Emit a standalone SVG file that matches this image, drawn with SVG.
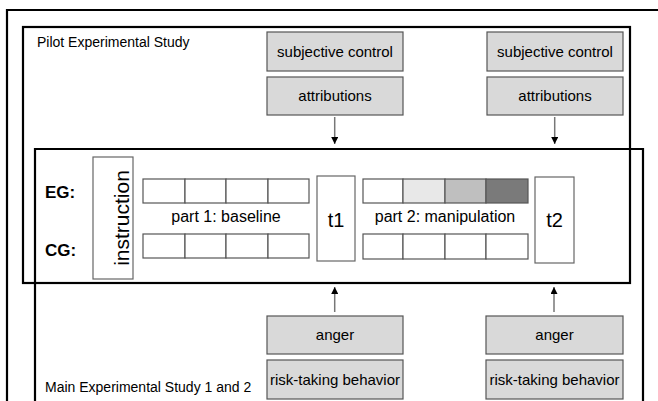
<svg xmlns="http://www.w3.org/2000/svg" width="658" height="401" viewBox="0 0 658 401">
<defs>
<style>
text{font-family:"Liberation Sans",Arial,sans-serif;fill:#000}
.frame{fill:none;stroke:#000;stroke-width:2.2}
.gbox{fill:#d9d9d9;stroke:#555;stroke-width:1.2}
.cell{fill:#fff;stroke:#555;stroke-width:1.2}
.wbox{fill:#fff;stroke:#666;stroke-width:1.2}
.lbl{font-size:15px;text-anchor:middle}
.big{font-size:16px;text-anchor:middle}
.grp{font-size:17px;font-weight:bold}
.tt{font-size:20px;text-anchor:middle}
.conn{stroke:#777;stroke-width:1.5;fill:none}
</style>
<marker id="ah" viewBox="0 0 10 10" refX="10" refY="5" markerWidth="7" markerHeight="7" markerUnits="userSpaceOnUse" orient="auto">
<path d="M0,0 L10,5 L0,10 z" fill="#000"/>
</marker>
</defs>
<rect width="658" height="401" fill="#fff"/>
<g id="frames">
<path d="M7,401 V10 H658" class="frame"/>
<rect x="23" y="27" width="607" height="256" class="frame"/>
<path d="M35,401 V149 H643 V401" class="frame"/>
<text x="37" y="47" font-size="14">Pilot Experimental Study</text>
<text x="45" y="392" font-size="14">Main Experimental Study 1 and 2</text>
</g>
<g id="sc1"><rect x="267" y="32" width="136" height="39" class="gbox"/><text x="335" y="57" class="lbl">subjective control</text></g>
<g id="at1"><rect x="267" y="77" width="136" height="38" class="gbox"/><text x="335" y="101" class="lbl">attributions</text></g>
<g id="sc2"><rect x="487" y="32" width="136" height="39" class="gbox"/><text x="555" y="57" class="lbl">subjective control</text></g>
<g id="at2"><rect x="487" y="77" width="136" height="38" class="gbox"/><text x="555" y="101" class="lbl">attributions</text></g>
<g id="an1"><rect x="267" y="316" width="136" height="38" class="gbox"/><text x="335" y="340" class="lbl">anger</text></g>
<g id="rt1"><rect x="267" y="360" width="136" height="39" class="gbox"/><text x="335" y="385" class="lbl">risk-taking behavior</text></g>
<g id="an2"><rect x="486" y="316" width="137" height="38" class="gbox"/><text x="554.5" y="340" class="lbl">anger</text></g>
<g id="rt2"><rect x="486" y="360" width="137" height="39" class="gbox"/><text x="554.5" y="385" class="lbl">risk-taking behavior</text></g>
<g id="groups">
<text x="45" y="198" class="grp">EG:</text>
<text x="45" y="256" class="grp">CG:</text>
</g>
<g id="instruction">
<rect x="93" y="157" width="40" height="122" class="wbox"/>
<text transform="translate(129,218) rotate(-90)" font-size="21" text-anchor="middle">instruction</text>
</g>
<g id="part1">
<rect x="143" y="179" width="42" height="24" class="cell"/>
<rect x="185" y="179" width="41" height="24" class="cell"/>
<rect x="226" y="179" width="42" height="24" class="cell"/>
<rect x="268" y="179" width="41" height="24" class="cell"/>
<rect x="143" y="234" width="42" height="24" class="cell"/>
<rect x="185" y="234" width="41" height="24" class="cell"/>
<rect x="226" y="234" width="42" height="24" class="cell"/>
<rect x="268" y="234" width="41" height="24" class="cell"/>
<text x="226" y="222" class="big">part 1: baseline</text>
</g>
<g id="t1"><rect x="317" y="176" width="38" height="85" class="wbox"/><text x="336" y="227" class="tt">t1</text></g>
<g id="part2">
<rect x="363" y="179" width="40" height="24" class="cell"/>
<rect x="403" y="179" width="42" height="24" class="cell" style="fill:#e8e8e8"/>
<rect x="445" y="179" width="41" height="24" class="cell" style="fill:#bfbfbf"/>
<rect x="486" y="179" width="42" height="24" class="cell" style="fill:#7a7a7a"/>
<rect x="363" y="234" width="40" height="25" class="cell"/>
<rect x="403" y="234" width="42" height="25" class="cell"/>
<rect x="445" y="234" width="41" height="25" class="cell"/>
<rect x="486" y="234" width="42" height="25" class="cell"/>
<text x="445" y="222" class="big">part 2: manipulation</text>
</g>
<g id="t2"><rect x="535" y="177" width="39" height="86" class="wbox"/><text x="554.5" y="227" class="tt">t2</text></g>
<g id="connectors">
<line x1="334.7" y1="117" x2="334.7" y2="144" class="conn" marker-end="url(#ah)"/>
<line x1="554.7" y1="117" x2="554.7" y2="144" class="conn" marker-end="url(#ah)"/>
<line x1="334.7" y1="312" x2="334.7" y2="287" class="conn" marker-end="url(#ah)"/>
<line x1="554" y1="312" x2="554" y2="287" class="conn" marker-end="url(#ah)"/>
</g>
</svg>
